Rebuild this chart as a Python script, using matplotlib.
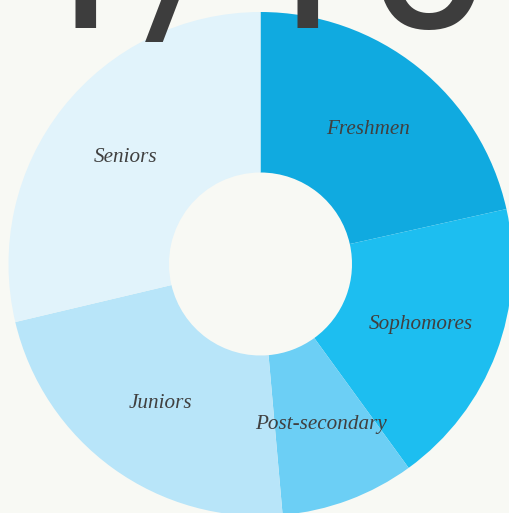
import matplotlib
matplotlib.use('Agg')
import matplotlib.pyplot as plt

categories = ['Freshmen', 'Sophomores', 'Post-secondary', 'Juniors', 'Seniors']
shares = [21.5, 18.5, 8.6, 22.7, 28.7]
colors = ['#10aae0', '#1dbef0', '#6ccff5', '#b8e5f9', '#e1f3fb']
headline = '1/100'

W, H = 509, 513
bg = '#f8f9f4'

fig = plt.figure(figsize=(W / 100, H / 100), dpi=100, facecolor=bg)
ax = fig.add_axes([0, 0, 1, 1])
ax.set_facecolor(bg)

R_out, R_in = 252, 91.5
cx, cy = 260.5, H - 264

wedges, texts = ax.pie(
    shares, labels=categories, colors=colors, startangle=90, counterclock=False,
    center=(cx, cy), radius=R_out, labeldistance=(R_out + R_in) / 2 / R_out,
    wedgeprops=dict(width=R_out - R_in, linewidth=0, antialiased=True),
    textprops=dict(family='Liberation Serif', style='italic', fontsize=15.2, color='#404040'),
)
for t in texts:
    t.set_ha('center')
    t.set_va('center')

ax.set_xlim(0, W)
ax.set_ylim(0, H)
ax.set_aspect('auto')
ax.axis('off')

ax.text(15, H - 28, headline, fontsize=164, family='Roboto', fontweight='normal',
        color='#3d3d3d', va='baseline', ha='left', zorder=10)

fig.savefig('out.png', dpi=100, facecolor=bg)
